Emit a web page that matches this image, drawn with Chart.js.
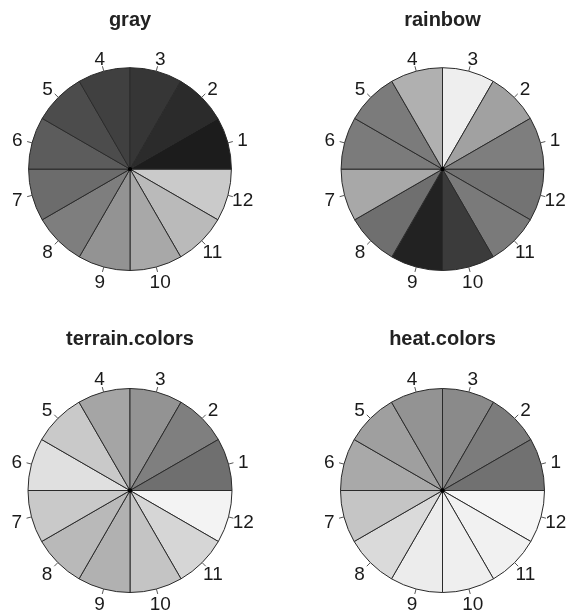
<!DOCTYPE html>
<html>
<head>
<meta charset="utf-8">
<script src="https://cdn.jsdelivr.net/npm/chart.js@4.4.1/dist/chart.umd.min.js"></script>
<style>
  html, body { margin: 0; padding: 0; background: #ffffff; width: 573px; height: 616px; overflow: hidden; }
  .cell { position: absolute; width: 286px; height: 310px; }
  .cell canvas { display: block; }
</style>
</head>
<body>
<div class="cell" style="left:0px;top:0px;"><canvas id="c0" width="286" height="310"></canvas></div>
<div class="cell" style="left:286px;top:0px;"><canvas id="c1" width="286" height="310"></canvas></div>
<div class="cell" style="left:0px;top:306px;"><canvas id="c2" width="286" height="310"></canvas></div>
<div class="cell" style="left:286px;top:306px;"><canvas id="c3" width="286" height="310"></canvas></div>
<script>
// ---- data ----
const categories = ['1', '2', '3', '4', '5', '6', '7', '8', '9', '10', '11', '12'];
const sliceValues = [1, 1, 1, 1, 1, 1, 1, 1, 1, 1, 1, 1];
const panelTitles = ['gray', 'rainbow', 'terrain.colors', 'heat.colors'];
const grayColors    = ['#1c1c1c', '#2b2b2b', '#363636', '#404040', '#4c4c4c', '#5c5c5c', '#6c6c6c', '#7e7e7e', '#939393', '#a8a8a8', '#bababa', '#cacaca'];
const rainbowColors = ['#7e7e7e', '#a1a1a1', '#eeeeee', '#b0b0b0', '#7b7b7b', '#7b7b7b', '#a8a8a8', '#6f6f6f', '#222222', '#3b3b3b', '#7a7a7a', '#737373'];
const terrainColors = ['#6f6f6f', '#7f7f7f', '#939393', '#a5a5a5', '#c9c9c9', '#e0e0e0', '#c9c9c9', '#b9b9b9', '#b1b1b1', '#c4c4c4', '#d6d6d6', '#f3f3f3'];
const heatColors    = ['#717171', '#7c7c7c', '#8a8a8a', '#939393', '#9f9f9f', '#a9a9a9', '#c5c5c5', '#dadada', '#ececec', '#efefef', '#f1f1f1', '#f6f6f6'];

const palettes = [grayColors, rainbowColors, terrainColors, heatColors];

// ---- label / tick plugin (R pie style) ----
const pieLabels = {
  id: 'pieLabels',
  afterDatasetsDraw(chart) {
    const ctx = chart.ctx;
    const meta = chart.getDatasetMeta(0);
    const labels = chart.data.labels;
    ctx.save();
    meta.data.forEach((arc, i) => {
      const p = arc.getProps(['x', 'y', 'startAngle', 'endAngle', 'outerRadius'], true);
      const mid = (p.startAngle + p.endAngle) / 2;
      const c = Math.cos(mid), s = Math.sin(mid);
      const r = p.outerRadius;
      ctx.strokeStyle = '#555555';
      ctx.lineWidth = 1;
      ctx.beginPath();
      ctx.moveTo(p.x + c * r, p.y + s * r);
      ctx.lineTo(p.x + c * r * 1.05, p.y + s * r * 1.05);
      ctx.stroke();
      ctx.fillStyle = '#1a1a1a';
      ctx.font = '19px "Liberation Sans", Arial, sans-serif';
      ctx.textAlign = 'center';
      ctx.textBaseline = 'middle';
      ctx.fillText(labels[i], p.x + c * r * 1.15, p.y + s * r * 1.14 + 2);
    });
    const a0 = meta.data[0];
    ctx.fillStyle = '#000000';
    ctx.beginPath();
    ctx.arc(a0.x, a0.y, 2.2, 0, Math.PI * 2);
    ctx.fill();
    ctx.restore();
  }
};

const layouts = [
  { titlePad: { top: 8.2, bottom: 35 }, pad: { left: 27.5, right: 53.5, top: 0, bottom: 39 } },
  { titlePad: { top: 8.2, bottom: 35 }, pad: { left: 54, right: 27, top: 0, bottom: 39 } },
  { titlePad: { top: 21.6, bottom: 36.4 }, pad: { left: 27.5, right: 53.5, top: 0, bottom: 23 } },
  { titlePad: { top: 21.6, bottom: 36.4 }, pad: { left: 54, right: 27, top: 0, bottom: 23 } }
];

for (let k = 0; k < 4; k++) {
  // R draws counter-clockwise from 3 o'clock; Chart.js draws clockwise, so reverse the order
  const labs = categories.slice().reverse();
  const vals = sliceValues.slice().reverse();
  const cols = palettes[k].slice().reverse();
  new Chart(document.getElementById('c' + k), {
    type: 'pie',
    data: {
      labels: labs,
      datasets: [{
        data: vals,
        backgroundColor: cols,
        borderColor: '#2a2a2a',
        borderWidth: 1,
        hoverOffset: 0,
        offset: 0
      }]
    },
    options: {
      responsive: false,
      animation: false,
      events: [],
      rotation: 90,
      layout: { padding: layouts[k].pad },
      plugins: {
        legend: { display: false },
        tooltip: { enabled: false },
        title: {
          display: true,
          text: panelTitles[k],
          color: '#222222',
          font: { family: '"Liberation Sans", Arial, sans-serif', size: 20, weight: 'bold', lineHeight: 1.2 },
          padding: layouts[k].titlePad
        }
      }
    },
    plugins: [pieLabels]
  });
}
</script>
</body>
</html>
